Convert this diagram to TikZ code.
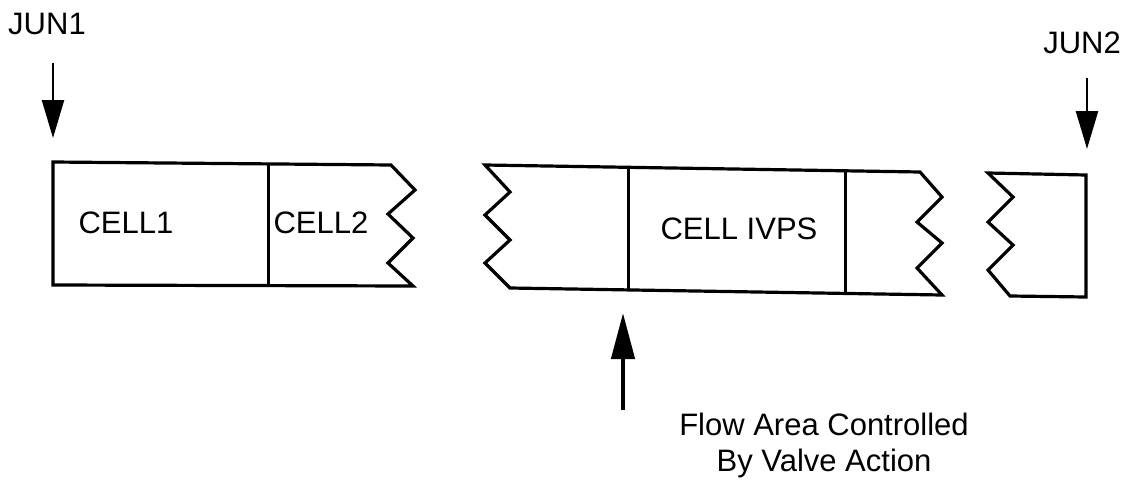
\documentclass[tikz,border=0pt]{standalone}
\usepackage{fontspec}
\setmainfont{Liberation Sans}
\usetikzlibrary{arrows.meta}
\tikzset{
  pipe/.style={line width=3.2pt, line join=miter},
  divider/.style={line width=3pt},
  lbl/.style={font=\fontsize{31}{36}\selectfont, inner sep=0pt, anchor=center},
  junarrow/.style={line width=2.4pt, -{Triangle[length=38pt,width=22pt]}},
  valvearrow/.style={line width=4.5pt, -{Triangle[length=46pt,width=23pt]}}
}
\begin{document}
\begin{tikzpicture}[x=1pt,y=-1pt]
\useasboundingbox (0,0) rectangle (1133,485);
% block 1
\draw[pipe] (53,162) -- (391,165) -- (415,190) -- (388,214) -- (413,238) -- (388,263) -- (413,286) -- (53,285) -- cycle;
\draw[divider] (268,163) -- (268,285);
% block 2
\draw[pipe] (485,165) -- (510,192) -- (485,215) -- (510,240) -- (485,263) -- (510,288) -- (942,295) -- (917,268) -- (942,243) -- (917,222) -- (942,197) -- (920,172) -- cycle;
\draw[divider] (628,168) -- (628,290);
\draw[divider] (845,171) -- (845,293);
% block 3
\draw[pipe] (988,173) -- (1086,175) -- (1086,297) -- (1010,296) -- (988,270) -- (1013,245) -- (988,222) -- (1013,197) -- cycle;
% labels
\node[lbl] (cell1) at (126,223) {CELL1};
\node[lbl] (cell2) at (321,223) {CELL2};
\node[lbl] (cellivps) at (739,229) {CELL IVPS};
\node[lbl] (jun1) at (47,24) {JUN1};
\node[lbl] (jun2) at (1082,43) {JUN2};
\node[lbl, align=center] (flow) at (824,445) {Flow Area Controlled\\By Valve Action};
% arrows
\coordinate (j1s) at (53,63);
\coordinate (j1e) at (53,138);
\coordinate (j2s) at (1087,78);
\coordinate (j2e) at (1087,149);
\coordinate (vs) at (623,410);
\coordinate (ve) at (623,313);
\draw[junarrow] (j1s) -- (j1e);
\draw[junarrow] (j2s) -- (j2e);
\draw[valvearrow] (vs) -- (ve);
\end{tikzpicture}
\end{document}
